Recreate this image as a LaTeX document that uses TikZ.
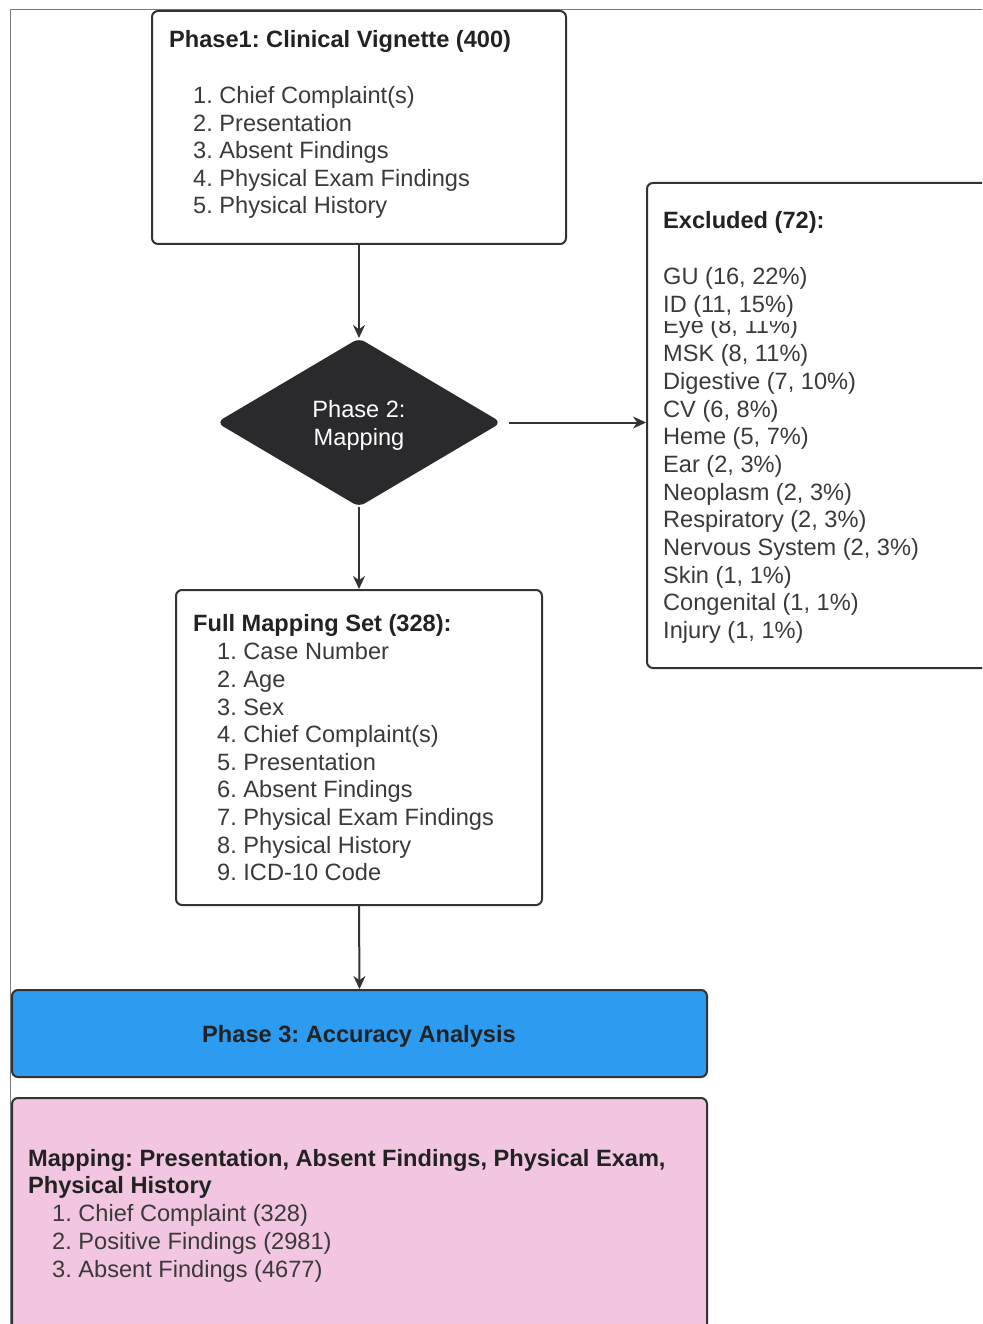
\documentclass[tikz,border=0pt]{standalone}
\usepackage{fontspec}
\setmainfont{Liberation Sans}
\usetikzlibrary{shapes.geometric,arrows.meta}
\definecolor{txt}{HTML}{3A3A3A}
\definecolor{ttl}{HTML}{222222}
\definecolor{edge}{HTML}{333333}
\definecolor{dark}{HTML}{2A2A2D}
\definecolor{blueb}{HTML}{2D9BF0}
\definecolor{pinkb}{HTML}{F2C6E0}
\definecolor{frame}{HTML}{7A7A7A}
\frenchspacing
\begin{document}
\begin{tikzpicture}[x=1pt,y=-1pt,
  box/.style={draw=edge, line width=2pt, rounded corners=6pt, inner sep=0pt, fill=white},
  lbl/.style={anchor=base west, inner sep=0pt, text=txt, font=\fontsize{23.6}{28}\selectfont},
  ttlbl/.style={lbl, text=ttl, font=\fontsize{23.6}{28}\selectfont\bfseries},
  arr/.style={draw=edge, line width=2pt, -{Stealth[length=13pt,width=12pt]}}]
\clip (0,0) rectangle (982,1324);
\fill[white] (0,0) rectangle (982,1324);
\draw[frame, line width=1pt] (10,1330) -- (10,10) -- (990,10);

% boxes
\node[box, minimum width=414pt, minimum height=233pt] (b1) at (359,127.5) {};
\node[box, shape=diamond, fill=dark, draw=dark, minimum width=282pt, minimum height=167pt] (dia) at (359,422.5) {};
\node[box, minimum width=360pt, minimum height=485pt] (exc) at (827,425.5) {};
\node[box, minimum width=366pt, minimum height=315pt] (fm) at (359,747.5) {};
\node[box, fill=blueb, minimum width=695pt, minimum height=87pt] (blue) at (359.5,1033.5) {};
\node[box, fill=pinkb, minimum width=695pt, minimum height=250pt] (pink) at (359.5,1223) {};

% Phase 1 text
\node[ttlbl] (t1) at (169,48) {Phase1: Clinical Vignette (400)};
\node[lbl] (t1a) at (193,104) {1. Chief Complaint(s)};
\node[lbl] (t1b) at (193,132) {2. Presentation};
\node[lbl] (t1c) at (193,159) {3. Absent Findings};
\node[lbl] (t1d) at (193,187) {4. Physical Exam Findings};
\node[lbl] (t1e) at (193,214) {5. Physical History};

% diamond text
\node[lbl, anchor=base, text=white] (d1) at (359,417) {Phase 2:};
\node[lbl, anchor=base, text=white] (d2) at (359,445) {Mapping};

% excluded text
\node[ttlbl] (e0) at (663,229) {Excluded (72):};
\node[lbl] (e1) at (663,284) {GU (16, 22\%)};
\node[lbl] (e2) at (663,312) {ID (11, 15\%)};
\begin{scope}
\clip (650,321) rectangle (900,340);
\node[lbl] (e3) at (663,333) {Eye (8, 11\%)};
\end{scope}
\node[lbl] (e4) at (663,361) {MSK (8, 11\%)};
\node[lbl] (e5) at (663,389) {Digestive (7, 10\%)};
\node[lbl] (e6) at (663,417) {CV (6, 8\%)};
\node[lbl] (e7) at (663,444) {Heme (5, 7\%)};
\node[lbl] (e8) at (663,472) {Ear (2, 3\%)};
\node[lbl] (e9) at (663,500) {Neoplasm (2, 3\%)};
\node[lbl] (e10) at (663,527) {Respiratory (2, 3\%)};
\node[lbl] (e11) at (663,555) {Nervous System (2, 3\%)};
\node[lbl] (e12) at (663,583) {Skin (1, 1\%)};
\node[lbl] (e13) at (663,610) {Congenital (1, 1\%)};
\node[lbl] (e14) at (663,638) {Injury (1, 1\%)};

% full mapping text
\node[ttlbl] (f0) at (193,631) {Full Mapping Set (328):};
\node[lbl] (f1) at (217,659) {1. Case Number};
\node[lbl] (f2) at (217,687) {2. Age};
\node[lbl] (f3) at (217,715) {3. Sex};
\node[lbl] (f4) at (217,742) {4. Chief Complaint(s)};
\node[lbl] (f5) at (217,770) {5. Presentation};
\node[lbl] (f6) at (217,797) {6. Absent Findings};
\node[lbl] (f7) at (217,825) {7. Physical Exam Findings};
\node[lbl] (f8) at (217,853) {8. Physical History};
\node[lbl] (f9) at (217,880) {9. ICD-10 Code};

% phase 3
\node[ttlbl, anchor=base] (p3) at (359,1042) {Phase 3: Accuracy Analysis};

% pink text
\node[ttlbl] (m0) at (28,1166) {Mapping: Presentation, Absent Findings, Physical Exam,};
\node[ttlbl] (m1) at (28,1193) {Physical History};
\node[lbl] (m2) at (52,1221) {1. Chief Complaint (328)};
\node[lbl] (m3) at (52,1249) {2. Positive Findings (2981)};
\node[lbl] (m4) at (52,1277) {3. Absent Findings (4677)};

% connectors
\draw[arr] (b1.south) -- (dia.north);
\draw[arr] ([xshift=8pt]dia.east) -- (dia.east -| exc.west);
\draw[arr] (dia.south) -- (fm.north);
\draw[arr] (fm.south) -- (blue.north);
\end{tikzpicture}
\end{document}
